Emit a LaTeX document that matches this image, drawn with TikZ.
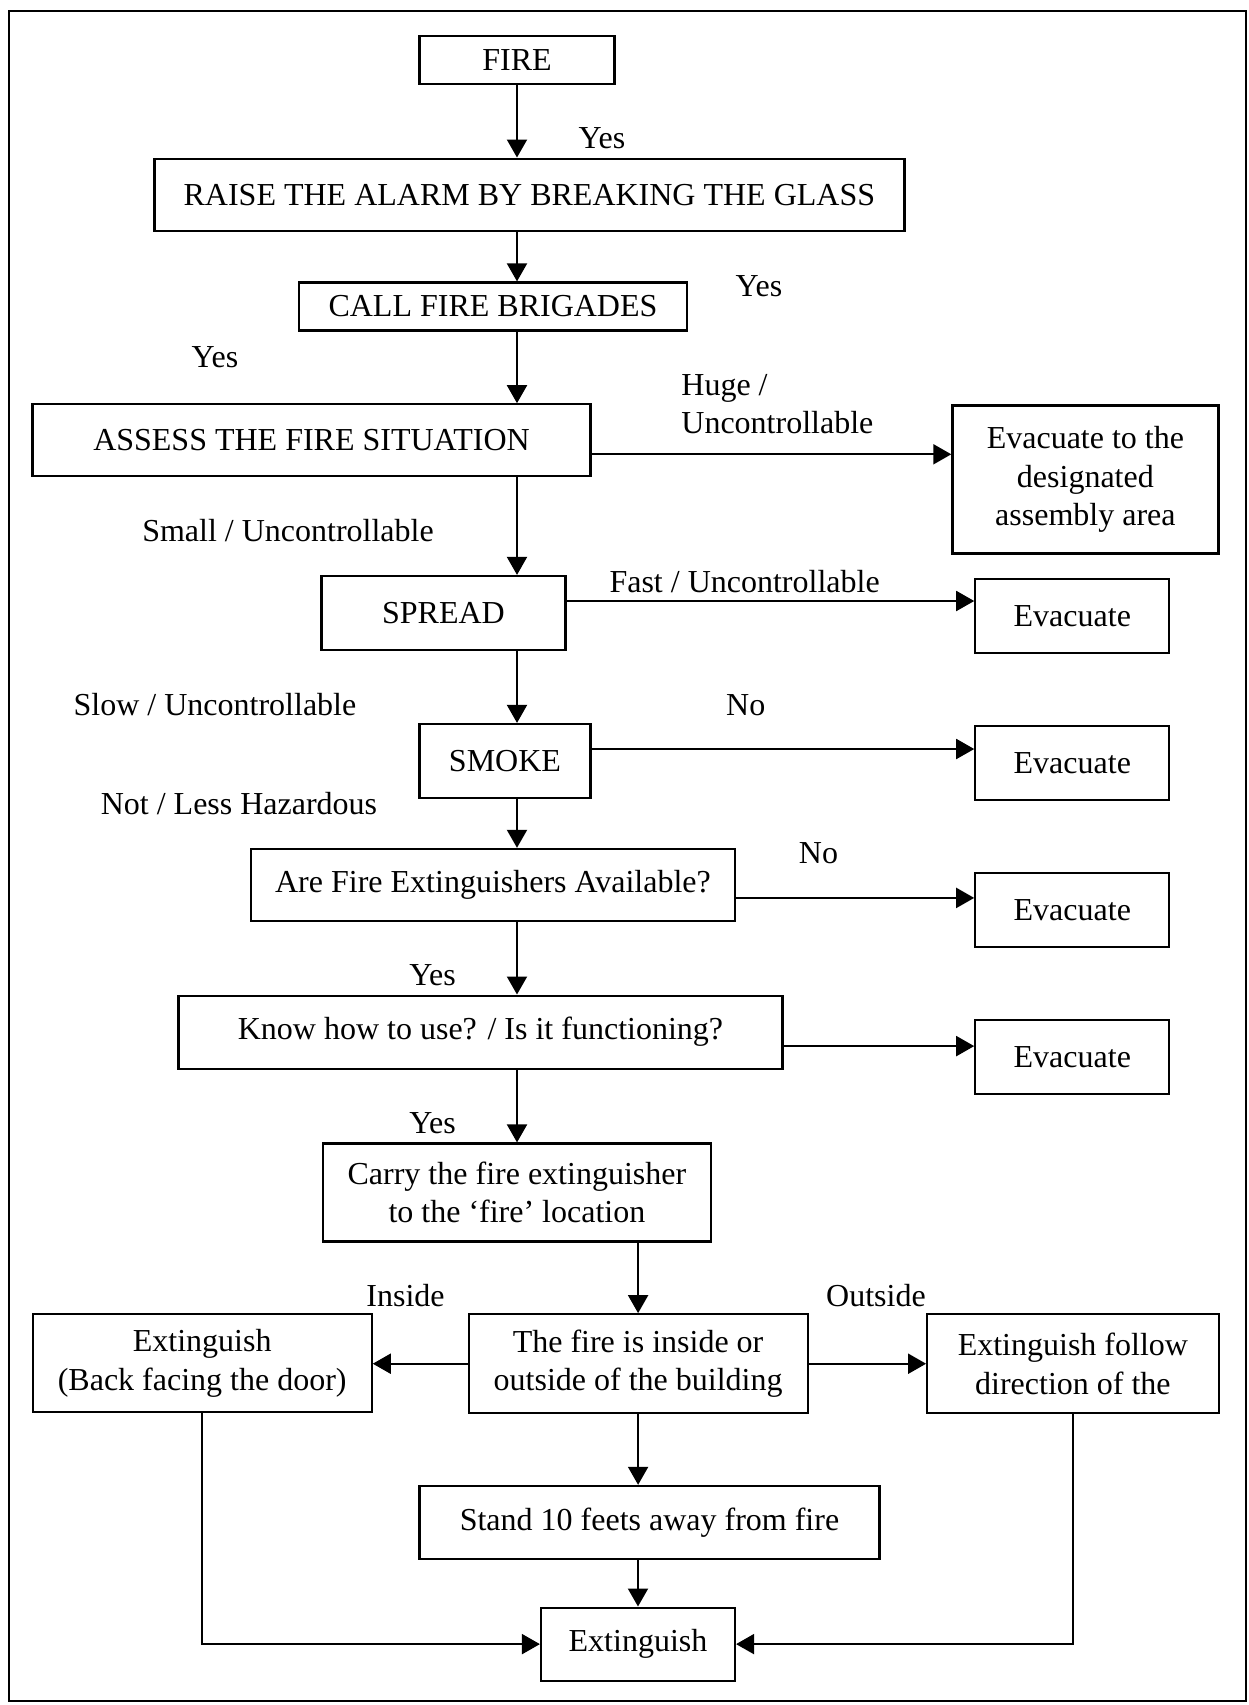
\documentclass[tikz,border=0pt]{standalone}
\usepackage{fontspec}
\setmainfont{Liberation Serif}
\usetikzlibrary{arrows.meta,calc}

\tikzset{
  box/.style={draw,line width=1.1pt,inner sep=0pt,align=center,font=\fontsize{16}{19.3}\selectfont},
  arr/.style={line width=1pt,-{Triangle[length=9pt,width=10pt]}},
  lbl/.style={inner sep=0pt,font=\fontsize{16}{19.3}\selectfont}
}

\begin{document}
\begin{tikzpicture}[x=0.5pt,y=-0.5pt]
\useasboundingbox (0,0) rectangle (1249,1705);
\draw[line width=1.3pt] (9,11) rectangle (1246,1701); %frame

% main column
\node[box,minimum width=97.5pt,minimum height=24pt] (fire) at (517,60) {FIRE};
\node[box,minimum width=375pt,minimum height=36pt] (raise) at (529.4,194.6) {RAISE THE ALARM BY BREAKING THE GLASS};
\node[box,minimum width=194pt,minimum height=24pt] (call) at (493,306.5) {CALL FIRE BRIGADES};
\node[box,minimum width=279pt,minimum height=36pt] (assess) at (311.5,440.3) {ASSESS THE FIRE SITUATION};
\node[box,minimum width=122pt,minimum height=37pt] (spread) at (443.5,613) {SPREAD};
\node[box,minimum width=85.5pt,minimum height=37pt] (smoke) at (505,761) {SMOKE};
\node[box,minimum width=242pt,minimum height=36pt] (avail) at (493,884.9) {Are Fire Extinguishers Available?};
\node[box,minimum width=302pt,minimum height=36.5pt] (know) at (480.5,1032.1) {Know how to use? / Is it functioning?};
\node[box,minimum width=194pt,minimum height=49pt] (carry) at (516.9,1192.5) {Carry the fire extinguisher\\to the `fire' location};

% evacuate column
\node[box,minimum width=133pt,minimum height=74pt] (area) at (1085.4,479.4) {Evacuate to the\\designated\\assembly area};
\node[box,minimum width=97pt,minimum height=37pt] (evacA) at (1072.3,615.8) {Evacuate};
\node[box,minimum width=97pt,minimum height=37pt] (evacB) at (1072.3,763) {Evacuate};
\node[box,minimum width=97pt,minimum height=37pt] (evacC) at (1072.3,909.8) {Evacuate};
\node[box,minimum width=97pt,minimum height=37pt] (evacD) at (1072.3,1057.1) {Evacuate};

% bottom part
\node[box,minimum width=169.5pt,minimum height=49pt] (extL) at (202.2,1363.1) {Extinguish\\(Back facing the door)};
\node[box,minimum width=169.5pt,minimum height=49.5pt] (place) at (638.1,1363.7) {The fire is inside or\\outside of the building};
\node[box,minimum width=145.7pt,minimum height=49.5pt] (extR) at (1072.9,1363.7) {Extinguish follow\\direction of the};
\node[box,minimum width=230pt,minimum height=36.5pt] (stand) at (649.5,1522.4) {Stand 10 feets away from fire};
\node[box,minimum width=97pt,minimum height=36.5pt] (final) at (638,1644.1) {Extinguish};

% labels
\node[lbl] (yA) at (602,138) {Yes};
\node[lbl] (yB) at (759,286) {Yes};
\node[lbl] (yC) at (215,357.6) {Yes};
\node[lbl,anchor=west,align=left] (huge) at (681,404) {Huge /\\Uncontrollable};
\node[lbl] (small) at (288,530.5) {Small / Uncontrollable};
\node[lbl] (fast) at (744.6,581.5) {Fast / Uncontrollable};
\node[lbl] (slow) at (215,704.4) {Slow / Uncontrollable};
\node[lbl] (nA) at (745.7,705.5) {No};
\node[lbl] (notless) at (239,803.3) {Not / Less Hazardous};
\node[lbl] (nB) at (818.5,853.3) {No};
\node[lbl] (yD) at (432.6,975) {Yes};
\node[lbl] (yE) at (432.6,1122.9) {Yes};
\node[lbl] (inside) at (405.5,1295.7) {Inside};
\node[lbl] (outside) at (876,1295.7) {Outside};

% down arrows
\draw[arr] (fire.south) -- (fire.south |- raise.north);
\draw[arr] (raise.south -| fire.south) -- (call.north -| fire.south);
\draw[arr] (call.south -| fire.south) -- (assess.north -| fire.south);
\draw[arr] (assess.south -| fire.south) -- (spread.north -| fire.south);
\draw[arr] (spread.south -| fire.south) -- (smoke.north -| fire.south);
\draw[arr] (smoke.south -| fire.south) -- (avail.north -| fire.south);
\draw[arr] (avail.south -| fire.south) -- (know.north -| fire.south);
\draw[arr] (know.south -| fire.south) -- (carry.north -| fire.south);
\draw[arr] (carry.south -| place.north) -- (place.north);
\draw[arr] (place.south) -- (place.south |- stand.north);
\draw[arr] (final.north |- stand.south) -- (final.north);

% side arrows
\draw[arr] ($(assess.east)+(0,14)$) -- ($(assess.east -| area.west)+(0,14)$);
\draw[arr] ($(spread.east)+(0,-12)$) -- ($(spread.east -| evacA.west)+(0,-12)$);
\draw[arr] ($(smoke.east)+(0,-12)$) -- ($(smoke.east -| evacB.west)+(0,-12)$);
\draw[arr] ($(avail.east)+(0,13)$) -- ($(avail.east -| evacC.west)+(0,13)$);
\draw[arr] ($(know.east)+(0,14)$) -- ($(know.east -| evacD.west)+(0,14)$);

\draw[arr] (place.west) -- (place.west -| extL.east);
\draw[arr] (place.east) -- (place.east -| extR.west);
\draw[arr] (extL.south) |- (final.west);
\draw[arr] (extR.south) |- (final.east);

\end{tikzpicture}
\end{document}
